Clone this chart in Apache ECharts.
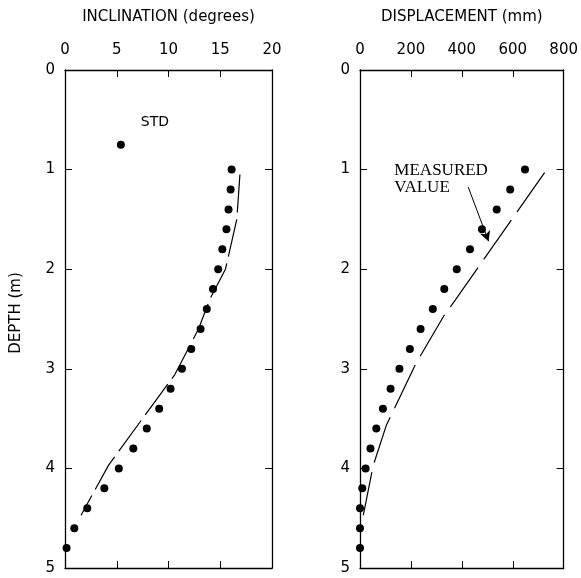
<!DOCTYPE html>
<html>
<head>
<meta charset="utf-8">
<script src="https://cdn.jsdelivr.net/npm/echarts@6/dist/echarts.min.js"></script>
<style>
  html, body { margin: 0; padding: 0; background: #fff; }
  #chart { width: 581px; height: 578px; }
</style>
</head>
<body>
<div id="chart"></div>
<script>
// measured points, depth in m
var depths = [1.0, 1.2, 1.4, 1.6, 1.8, 2.0, 2.2, 2.4, 2.6, 2.8, 3.0, 3.2, 3.4, 3.6, 3.8, 4.0, 4.2, 4.4, 4.6, 4.8];
var inclination = [16.1, 16.0, 15.8, 15.6, 15.2, 14.8, 14.3, 13.7, 13.1, 12.2, 11.3, 10.2, 9.1, 7.9, 6.6, 5.2, 3.8, 2.15, 0.9, 0.15];
var displacement = [648, 590, 537, 479, 432, 380, 331, 286, 238, 196, 155, 120, 90, 64, 41, 22, 9, 0, 0, 0];

// STD point
var stdPoint = [5.4, 0.75];

// computed curves (dashed)
var fitInclDepth = [1.05, 1.5, 2.0, 2.3, 2.6, 3.06, 3.47, 3.97, 4.47];
var fitIncl = [16.9, 16.6, 15.5, 14.0, 12.9, 10.6, 7.7, 4.2, 1.55];
var fitDispDepth = [1.03, 2.31, 2.47, 2.95, 3.57, 3.97, 4.47];
var fitDisp = [725, 374, 329, 219, 103, 52, 13];

var inclTicks = [0, 5, 10, 15, 20];
var dispTicks = [0, 200, 400, 600, 800];
var depthTicks = [0, 1, 2, 3, 4, 5];

function pairs(xs, ys) {
    return xs.map(function (x, i) { return [x, ys[i]]; });
}

var font = 'DejaVu Sans';
var black = '#000';

function xAx(grid, pos, ticks, name) {
    var top = pos === 'top';
    return {
        gridIndex: grid,
        type: 'value',
        position: pos,
        min: ticks[0],
        max: ticks[ticks.length - 1],
        interval: ticks[1] - ticks[0],
        name: top ? name : '',
        nameLocation: 'middle',
        nameGap: 45,
        nameTextStyle: { fontFamily: font, fontSize: 15, color: black },
        axisLine: { show: true, onZero: false, lineStyle: { color: black, width: 1.3 } },
        axisTick: { show: true, inside: true, length: 7, lineStyle: { color: black } },
        axisLabel: { show: top, margin: 12, fontFamily: font, fontSize: 15, color: black },
        splitLine: { show: false }
    };
}

function yAx(grid, pos, withName) {
    var left = pos === 'left';
    return {
        gridIndex: grid,
        type: 'value',
        position: pos,
        inverse: true,
        min: depthTicks[0],
        max: depthTicks[depthTicks.length - 1],
        interval: 1,
        name: withName ? 'DEPTH (m)' : '',
        nameLocation: 'middle',
        nameRotate: 90,
        nameGap: 41,
        nameTextStyle: { fontFamily: font, fontSize: 15, color: black, padding: [0, 0, 0, 12] },
        axisLine: { show: true, onZero: false, lineStyle: { color: black, width: 1.3 } },
        axisTick: { show: true, inside: true, length: 7, lineStyle: { color: black } },
        axisLabel: { show: left, margin: 10, fontFamily: font, fontSize: 15, color: black },
        splitLine: { show: false }
    };
}

var chart = echarts.init(document.getElementById('chart'));

chart.setOption({
    backgroundColor: '#fff',
    animation: false,
    grid: [
        { left: 65, top: 70, width: 207, height: 498 },
        { left: 360, top: 70, width: 207, height: 498 }
    ],
    xAxis: [
        xAx(0, 'top', inclTicks, 'INCLINATION (degrees)'),
        xAx(0, 'bottom', inclTicks, ''),
        xAx(1, 'top', dispTicks, 'DISPLACEMENT (mm)'),
        xAx(1, 'bottom', dispTicks, '')
    ],
    yAxis: [
        yAx(0, 'left', true),
        yAx(0, 'right', false),
        yAx(1, 'left', false),
        yAx(1, 'right', false)
    ],
    series: [
        {
            type: 'line',
            xAxisIndex: 0, yAxisIndex: 0,
            data: pairs(fitIncl, fitInclDepth),
            symbol: 'none',
            lineStyle: { color: black, width: 1.2, type: [38, 7] }
        },
        {
            type: 'scatter',
            xAxisIndex: 0, yAxisIndex: 0,
            data: pairs(inclination, depths),
            symbolSize: 8,
            itemStyle: { color: black, opacity: 1 }
        },
        {
            type: 'scatter',
            xAxisIndex: 0, yAxisIndex: 0,
            data: [stdPoint],
            symbolSize: 8,
            itemStyle: { color: black, opacity: 1 },
            label: {
                show: true,
                formatter: 'STD',
                position: 'inside',
                offset: [34, -22],
                fontFamily: font,
                fontSize: 14,
                color: black
            }
        },
        {
            type: 'line',
            xAxisIndex: 2, yAxisIndex: 2,
            data: pairs(fitDisp, fitDispDepth),
            symbol: 'none',
            lineStyle: { color: black, width: 1.2, type: [48, 10] }
        },
        {
            type: 'scatter',
            xAxisIndex: 2, yAxisIndex: 2,
            data: pairs(displacement, depths),
            symbolSize: 8,
            itemStyle: { color: black, opacity: 1 },
            markLine: {
                silent: true,
                symbol: ['none', 'arrow'],
                symbolSize: [8, 10],
                label: { show: false },
                lineStyle: { color: black, width: 1, type: 'solid' },
                data: [[{ coord: [425, 1.175] }, { coord: [505, 1.72] }]]
            },
            markPoint: {
                silent: true,
                symbol: 'circle',
                symbolSize: 0,
                data: [{
                    coord: [135, 0.92],
                    label: {
                        show: true,
                        formatter: 'MEASURED\nVALUE',
                        position: [0, 0],
                        align: 'left',
                        verticalAlign: 'top',
                        fontFamily: 'Liberation Serif',
                        fontSize: 17,
                        lineHeight: 17,
                        color: black
                    }
                }]
            }
        }
    ]
});
</script>
</body>
</html>
